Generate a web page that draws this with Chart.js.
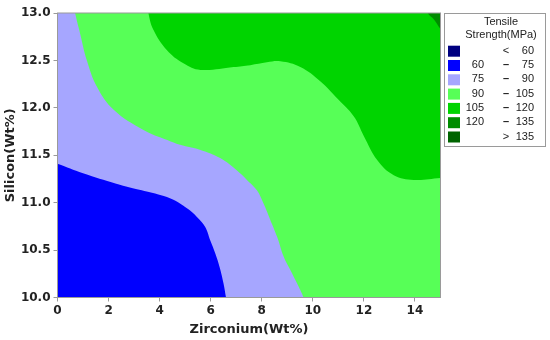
<!DOCTYPE html>
<html>
<head>
<meta charset="utf-8">
<script src="https://cdn.jsdelivr.net/npm/chart.js@4/dist/chart.umd.min.js"></script>
<style>
  html, body { margin: 0; background: #fff; }
  #wrap { width: 550px; height: 340px; }
</style>
</head>
<body>
<div id="wrap"><canvas id="chart"></canvas></div>
<script>
// legend bands (MPa)
const legendTitle = ['Tensile', 'Strength(MPa)'];
const bandLow = ['', '60', '75', '90', '105', '120', ''];
const bandSym = ['<', '\u2013', '\u2013', '\u2013', '\u2013', '\u2013', '>'];
const bandHigh = ['60', '75', '90', '105', '120', '135', '135'];
const bandColors = ['#000080', '#0000FF', '#A6A6FF', '#57FF57', '#00D400', '#008C00', '#006400'];

// contour lines, Zirconium (x) vs Silicon (y), wt%
const c75x = [0, 1.0, 2.3, 3.3, 4.02, 4.54, 5.07, 5.46, 5.78, 5.98, 6.18, 6.35, 6.5, 6.6, 6.75, 15];
const c75y = [11.41, 11.31, 11.2, 11.13, 11.08, 11.03, 10.94, 10.85, 10.745, 10.605, 10.465, 10.32, 10.15, 10.0, 9.8, 9.8];

const c90x = [0, 0.6, 0.69, 0.88, 1.15, 1.55, 2.2, 3.35, 4.3, 4.8, 5.6, 6.37, 7.03, 7.42, 7.81, 8.07, 8.33, 8.6, 8.86, 9.12, 9.38, 9.64, 9.85, 15];
const c90y = [13.15, 13.15, 13.0, 12.79, 12.5, 12.22, 11.98, 11.77, 11.66, 11.61, 11.555, 11.47, 11.34, 11.24, 11.13, 10.99, 10.82, 10.64, 10.43, 10.29, 10.15, 10.0, 9.85, 9.85];

const c105x = [0, 3.5, 3.56, 3.76, 4.28, 4.93, 5.6, 6.9, 7.55, 8.2, 8.73, 9.51, 10.29, 10.95, 11.6, 12.0, 12.52, 13.17, 13.95, 15];
const c105y = [13.15, 13.15, 13.0, 12.82, 12.61, 12.47, 12.4, 12.43, 12.45, 12.48, 12.49, 12.43, 12.28, 12.1, 11.91, 11.7, 11.45, 11.29, 11.24, 11.26];

const c120x = [0, 14.4, 14.5, 14.75, 15];
const c120y = [13.1, 13.1, 13.0, 12.93, 12.83];

const xTicks = [0, 2, 4, 6, 8, 10, 12, 14];
const yTicks = [10.0, 10.5, 11.0, 11.5, 12.0, 12.5, 13.0];

const pts = (xs, ys) => xs.map((x, i) => ({ x: x, y: ys[i] }));

function band(data, color, fill) {
  return {
    data: data,
    backgroundColor: color,
    borderColor: 'transparent',
    borderWidth: 0,
    pointRadius: 0,
    fill: fill,
    tension: 0.4
  };
}

const tickFont = { family: 'DejaVu Sans', size: 12, weight: 'bold' };
const titleFont = { family: 'DejaVu Sans', size: 13, weight: 'bold' };

// frame around the plot
const framePlugin = {
  id: 'frame',
  afterDatasetsDraw(chart) {
    const { ctx, chartArea: a } = chart;
    ctx.save();
    ctx.strokeStyle = '#9a9a9a';
    ctx.lineWidth = 1;
    ctx.strokeRect(a.left, a.top, a.right - a.left, a.bottom - a.top);
    ctx.restore();
  }
};

// boxed legend on the right
const legendPlugin = {
  id: 'bandLegend',
  afterDraw(chart) {
    const { ctx, chartArea: a } = chart;
    const left = a.right + 3.5, top = 13, w = 101, h = 133;
    ctx.save();
    ctx.fillStyle = '#fff';
    ctx.fillRect(left, top, w, h);
    ctx.strokeStyle = '#9a9a9a';
    ctx.lineWidth = 1;
    ctx.strokeRect(left + 0.5, top + 0.5, w, h);
    ctx.font = '11px "Liberation Sans"';
    ctx.fillStyle = '#222';
    ctx.textBaseline = 'middle';
    ctx.textAlign = 'center';
    ctx.fillText(legendTitle[0], left + 57, top + 9);
    ctx.fillText(legendTitle[1], left + 57, top + 22);
    bandColors.forEach((c, i) => {
      const y = top + 37.7 + i * 14.3;
      ctx.fillStyle = c;
      ctx.fillRect(left + 4, y - 5, 12, 11);
      ctx.fillStyle = '#222';
      ctx.textAlign = 'right';
      ctx.fillText(bandLow[i], left + 40, y);
      ctx.fillText(bandHigh[i], left + 90, y);
      ctx.textAlign = 'center';
      ctx.font = (i === 0 || i === 6) ? '11px "Liberation Sans"' : 'bold 11px "Liberation Sans"';
      ctx.fillText(bandSym[i], left + 62, y);
      ctx.font = '11px "Liberation Sans"';
    });
    ctx.restore();
  }
};

new Chart(document.getElementById('chart'), {
  type: 'line',
  data: {
    datasets: [
      band(pts(c120x, c120y), bandColors[5], 'end'),
      band(pts(c105x, c105y), bandColors[4], 'end'),
      band(pts(c90x, c90y), bandColors[3], 'end'),
      band(pts(c75x, c75y), bandColors[2], 'end'),
      band(pts([0, 15], [13, 13]), bandColors[1], 'start')
    ]
  },
  options: {
    responsive: true,
    maintainAspectRatio: false,
    animation: false,
    layout: { padding: { left: 0, right: 109.5, top: 13, bottom: 0 } },
    elements: { line: { capBezierPoints: false } },
    plugins: { legend: { display: false }, tooltip: { enabled: false } },
    scales: {
      x: {
        type: 'linear',
        min: 0,
        max: 15,
        afterBuildTicks: s => { s.ticks = xTicks.map(v => ({ value: v })); },
        afterFit: s => { s.height = 42.5; },
        ticks: { font: tickFont, color: '#222', padding: 2, maxRotation: 0 },
        grid: { drawOnChartArea: false, tickLength: 4, color: '#9a9a9a' },
        border: { color: '#9a9a9a' },
        title: { display: true, text: 'Zirconium(Wt%)', font: titleFont, color: '#222', padding: { top: 0, bottom: 3 } }
      },
      y: {
        type: 'linear',
        min: 10,
        max: 13,
        afterBuildTicks: s => { s.ticks = yTicks.map(v => ({ value: v })); },
        afterFit: s => { s.width = 57.5; },
        ticks: { font: tickFont, color: '#222', padding: 3, callback: v => v.toFixed(1) },
        grid: { drawOnChartArea: false, tickLength: 4, color: '#9a9a9a' },
        border: { color: '#9a9a9a' },
        title: { display: true, text: 'Silicon(Wt%)', font: titleFont, color: '#222', padding: { top: 3, bottom: 0 } }
      }
    }
  },
  plugins: [framePlugin, legendPlugin]
});
</script>
</body>
</html>
